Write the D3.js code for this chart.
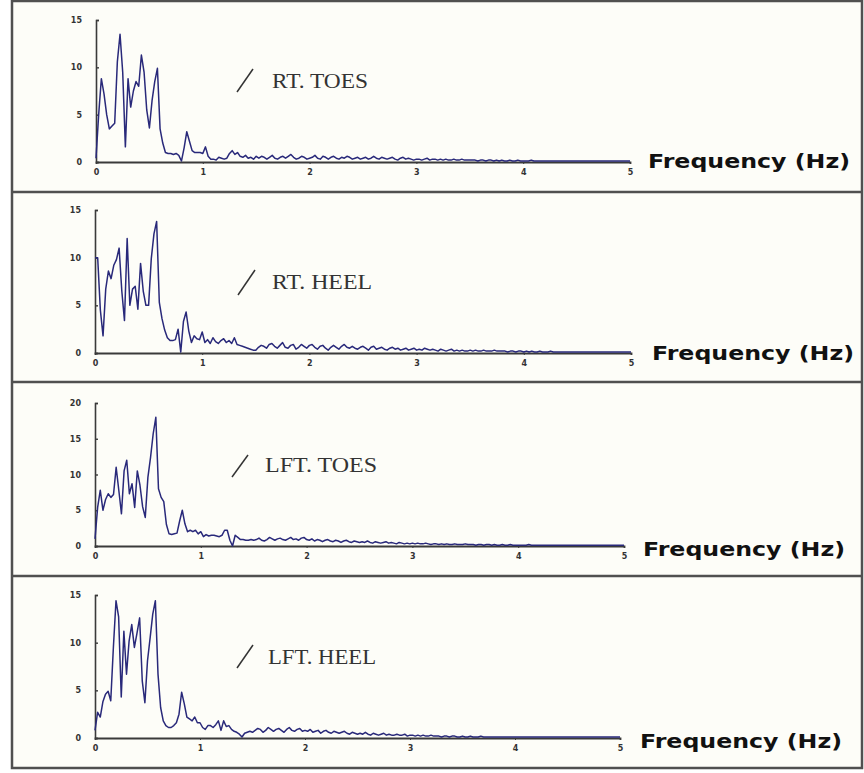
<!DOCTYPE html>
<html>
<head>
<meta charset="utf-8">
<script src="https://cdn.jsdelivr.net/npm/d3@7"></script>
<style>
  body { margin: 0; background: #fff; }
</style>
</head>
<body>
<div id="chart"></div>
<script>
// Four stacked FFT panels (force plate sensors), amplitude against frequency.
// Each series is sampled every freqStep Hz, starting at 0 Hz.

var freqStep = 0.025;
var freqTicks = [0, 1, 2, 3, 4, 5];
var panelNames = ["RT. TOES", "RT. HEEL", "LFT. TOES", "LFT. HEEL"];
var yMaxes = [15, 15, 20, 15];
var yTickSets = [[0, 5, 10, 15], [0, 5, 10, 15], [0, 5, 10, 15, 20], [0, 5, 10, 15]];
var axisTitle = "Frequency (Hz)";

var rtToes = [
  0.4, 5.0, 8.8, 7.2, 5.0, 3.5, 3.8, 4.1, 10.6, 13.5, 9.5, 1.6, 8.8, 5.8, 7.5, 8.5, 8.0, 11.3, 9.5, 5.5,
  3.6, 6.5, 8.5, 9.9, 3.5, 2.0, 1.0, 0.9, 0.9, 0.8, 0.9, 0.7, 0.1, 1.5, 3.2, 2.2, 1.2, 1.0, 1.0, 1.0,
  0.9, 1.6, 0.6, 0.3, 0.3, 0.2, 0.5, 0.4, 0.3, 0.4, 0.9, 1.2, 0.8, 1.0, 0.6, 0.5, 0.7, 0.4, 0.5, 0.3,
  0.6, 0.4, 0.6, 0.5, 0.3, 0.5, 0.7, 0.4, 0.3, 0.5, 0.6, 0.4, 0.6, 0.8, 0.5, 0.3, 0.4, 0.6, 0.5, 0.3,
  0.4, 0.5, 0.7, 0.4, 0.3, 0.6, 0.5, 0.3, 0.5, 0.6, 0.4, 0.3, 0.5, 0.4, 0.6, 0.5, 0.3, 0.4, 0.5, 0.3,
  0.4, 0.5, 0.3, 0.4, 0.6, 0.4, 0.3, 0.5, 0.4, 0.3, 0.4, 0.5, 0.3, 0.2, 0.4, 0.5, 0.3, 0.4, 0.3, 0.2,
  0.3, 0.3, 0.2, 0.3, 0.4, 0.2, 0.3, 0.3, 0.2, 0.3, 0.2, 0.3, 0.2, 0.2, 0.3, 0.2, 0.2, 0.3, 0.2, 0.2,
  0.2, 0.2, 0.2, 0.1, 0.2, 0.2, 0.1, 0.2, 0.2, 0.1, 0.2, 0.1, 0.2, 0.1, 0.1, 0.2, 0.1, 0.1, 0.2, 0.1,
  0.1, 0.1, 0.1, 0.2, 0.1, 0.1, 0.1, 0.1, 0.1, 0.1, 0.1, 0.1, 0.1, 0.1, 0.1, 0.1, 0.1, 0.1, 0.1, 0.1,
  0.1, 0.1, 0.1, 0.1, 0.1, 0.1, 0.1, 0.1, 0.1, 0.1, 0.1, 0.1, 0.1, 0.1, 0.1, 0.1, 0.1, 0.1, 0.1, 0.1,
  0.1
];

var rtHeel = [
  10.0, 10.0, 4.5, 1.8, 6.7, 8.6, 7.8, 9.2, 9.8, 11.0, 6.5, 3.4, 12.0, 5.0, 6.7, 7.0, 4.6, 9.4, 6.5, 5.0,
  5.0, 9.9, 12.5, 13.8, 5.3, 3.6, 2.4, 1.6, 1.3, 1.3, 1.4, 2.5, 0.1, 3.3, 4.3, 2.3, 1.1, 1.8, 1.5, 1.4,
  2.2, 1.1, 1.4, 1.0, 1.6, 1.2, 1.0, 1.3, 1.5, 1.1, 1.3, 1.0, 1.6, 0.9, 0.8, 0.7, 0.6, 0.5, 0.4, 0.3,
  0.3, 0.6, 0.8, 0.7, 0.5, 0.9, 1.0, 0.7, 0.5, 0.8, 1.1, 0.6, 0.5, 0.8, 0.9, 0.4, 0.6, 0.9, 0.7, 0.5,
  0.8, 0.9, 0.6, 0.4, 0.7, 0.8, 0.5, 0.3, 0.6, 0.8, 0.6, 0.4, 0.7, 0.9, 0.6, 0.5, 0.7, 0.5, 0.4, 0.6,
  0.7, 0.5, 0.3, 0.6, 0.7, 0.4, 0.5, 0.6, 0.4, 0.3, 0.5, 0.6, 0.4, 0.5, 0.3, 0.4, 0.5, 0.3, 0.4, 0.5,
  0.3, 0.4, 0.3, 0.5, 0.4, 0.3, 0.4, 0.3, 0.2, 0.4, 0.3, 0.2, 0.3, 0.4, 0.2, 0.3, 0.2, 0.3, 0.2, 0.2,
  0.3, 0.2, 0.3, 0.2, 0.2, 0.3, 0.2, 0.2, 0.2, 0.3, 0.2, 0.2, 0.2, 0.2, 0.1, 0.2, 0.2, 0.1, 0.2, 0.2,
  0.1, 0.2, 0.1, 0.2, 0.1, 0.1, 0.2, 0.1, 0.1, 0.1, 0.2, 0.1, 0.1, 0.1, 0.1, 0.1, 0.1, 0.1, 0.1, 0.1,
  0.1, 0.1, 0.1, 0.1, 0.1, 0.1, 0.1, 0.1, 0.1, 0.1, 0.1, 0.1, 0.1, 0.1, 0.1, 0.1, 0.1, 0.1, 0.1, 0.1,
  0.1
];

var lftToes = [
  1.0, 5.4, 7.8, 5.0, 6.5, 7.3, 6.8, 7.2, 11.0, 7.8, 4.5, 10.5, 12.0, 7.3, 8.7, 5.4, 10.5, 8.5, 5.5, 4.0,
  9.6, 12.4, 15.7, 18.0, 8.0, 6.8, 6.2, 3.0, 1.7, 1.6, 1.7, 1.8, 3.5, 5.0, 3.1, 2.0, 2.2, 2.0, 2.2, 1.7,
  2.0, 1.3, 1.6, 1.4, 1.5, 1.5, 1.4, 1.3, 1.5, 2.2, 2.2, 0.8, 0.0, 1.5, 1.2, 0.9, 0.9, 0.8, 0.8, 0.9,
  0.8, 0.9, 1.1, 0.8, 0.7, 0.9, 1.2, 1.0, 0.8, 1.0, 1.1, 0.9, 0.8, 1.0, 1.2, 0.9, 1.0, 0.8, 1.1, 1.2,
  0.9, 0.8, 1.0, 0.7, 0.9, 0.8, 0.6, 0.8, 0.9, 0.7, 0.6, 0.8, 0.7, 0.5, 0.7, 0.8, 0.6, 0.5, 0.7, 0.6,
  0.5, 0.6, 0.5, 0.7, 0.5, 0.4, 0.6, 0.5, 0.4, 0.5, 0.6, 0.4, 0.5, 0.4, 0.3, 0.5, 0.4, 0.3, 0.4, 0.3,
  0.4, 0.3, 0.4, 0.3, 0.3, 0.4, 0.3, 0.2, 0.3, 0.3, 0.2, 0.3, 0.2, 0.3, 0.2, 0.2, 0.3, 0.2, 0.2, 0.2,
  0.3, 0.2, 0.2, 0.2, 0.1, 0.2, 0.2, 0.1, 0.2, 0.2, 0.1, 0.2, 0.1, 0.1, 0.2, 0.1, 0.1, 0.2, 0.1, 0.1,
  0.1, 0.1, 0.1, 0.1, 0.2, 0.1, 0.1, 0.1, 0.1, 0.1, 0.1, 0.1, 0.1, 0.1, 0.1, 0.1, 0.1, 0.1, 0.1, 0.1,
  0.1, 0.1, 0.1, 0.1, 0.1, 0.1, 0.1, 0.1, 0.1, 0.1, 0.1, 0.1, 0.1, 0.1, 0.1, 0.1, 0.1, 0.1, 0.1, 0.1,
  0.1
];

var lftHeel = [
  0.8, 2.7, 2.2, 3.8, 4.6, 4.9, 3.9, 9.5, 14.4, 12.7, 4.3, 11.2, 6.7, 10.2, 11.9, 9.5, 11.0, 12.6, 6.0, 3.7,
  8.1, 10.5, 13.0, 14.4, 6.7, 3.2, 1.8, 1.3, 1.1, 1.1, 1.3, 1.6, 2.5, 4.8, 3.6, 2.2, 2.0, 1.8, 2.2, 1.6,
  1.6, 1.1, 0.9, 1.3, 1.3, 1.1, 1.4, 1.8, 0.8, 1.8, 1.2, 1.3, 0.9, 0.7, 0.6, 0.4, 0.1, 0.5, 0.6, 0.7,
  0.6, 0.8, 1.0, 0.9, 0.6, 0.8, 1.1, 0.9, 0.7, 0.9, 1.0, 0.8, 0.6, 0.9, 1.1, 0.8, 0.7, 0.9, 1.0, 0.7,
  0.8, 0.7, 0.9, 0.6, 0.7, 0.8, 0.5, 0.7, 0.8, 0.6, 0.5, 0.7, 0.6, 0.5, 0.6, 0.7, 0.5, 0.4, 0.6, 0.5,
  0.4, 0.5, 0.4, 0.6, 0.4, 0.3, 0.5, 0.4, 0.3, 0.4, 0.5, 0.3, 0.4, 0.3, 0.3, 0.4, 0.3, 0.3, 0.4, 0.2,
  0.3, 0.3, 0.2, 0.3, 0.2, 0.3, 0.2, 0.2, 0.3, 0.2, 0.2, 0.2, 0.1, 0.2, 0.2, 0.1, 0.2, 0.2, 0.1, 0.1,
  0.2, 0.1, 0.1, 0.2, 0.1, 0.1, 0.1, 0.2, 0.1, 0.1, 0.1, 0.1, 0.1, 0.1, 0.1, 0.1, 0.1, 0.1, 0.1, 0.1,
  0.1, 0.1, 0.1, 0.1, 0.1, 0.1, 0.1, 0.1, 0.1, 0.1, 0.1, 0.1, 0.1, 0.1, 0.1, 0.1, 0.1, 0.1, 0.1, 0.1,
  0.1, 0.1, 0.1, 0.1, 0.1, 0.1, 0.1, 0.1, 0.1, 0.1, 0.1, 0.1, 0.1, 0.1, 0.1, 0.1, 0.1, 0.1, 0.1, 0.1,
  0.1
];

var seriesList = [rtToes, rtHeel, lftToes, lftHeel];

/* page layout: frame, dividers and where each panel sits */
var frame = {left: 12, right: 862, top: 1, bottom: 768};
var dividers = [192, 382, 576];
var layout = [
  {x0: 96, x1: 630, yBase: 162, yTop: 20, label: [272, 81, 96], slash: [237, 92, 253, 69], title: [648, 161]},
  {x0: 95, x1: 631, yBase: 353, yTop: 210, label: [272, 282, 100], slash: [238, 295, 255, 270], title: [652, 353]},
  {x0: 95, x1: 624, yBase: 546, yTop: 403, label: [265, 465, 112], slash: [232, 477, 248, 455], title: [643, 549]},
  {x0: 95, x1: 620, yBase: 738, yTop: 595, label: [268, 657, 108], slash: [237, 668, 253, 645], title: [640, 741]}
];

var lineColor = "#29297a";
var axisColor = "#3a3a3a";

var svg = d3.select("#chart").append("svg")
    .attr("width", 864)
    .attr("height", 773)
    .style("display", "block");

svg.append("rect")
    .attr("width", 864).attr("height", 773)
    .attr("fill", "#ffffff");

/* outer frame with the panel dividers */
svg.append("rect")
    .attr("x", frame.left).attr("y", frame.top)
    .attr("width", frame.right - frame.left)
    .attr("height", frame.bottom - frame.top)
    .attr("fill", "#fdfdf8")
    .attr("stroke", "#505050")
    .attr("stroke-width", 2.5);

svg.selectAll("line.divider")
    .data(dividers)
    .enter()
    .append("line")
    .attr("class", "divider")
    .attr("x1", frame.left).attr("x2", frame.right)
    .attr("y1", function (d) { return d; })
    .attr("y2", function (d) { return d; })
    .attr("stroke", "#505050")
    .attr("stroke-width", 2.5);

/* one panel per sensor */
layout.forEach(function (lay, p) {
  var values = seriesList[p];
  var pts = values.map(function (v, i) {
    return {f: i * freqStep, v: v};
  });

  var x = d3.scaleLinear().domain([0, 5]).range([lay.x0, lay.x1]);
  var y = d3.scaleLinear().domain([0, yMaxes[p]]).range([lay.yBase, lay.yTop]);

  var g = svg.append("g").attr("class", "panel");

  /* y axis: ticks point inwards, small labels on the left */
  var yAxis = d3.axisLeft(y)
      .tickValues(yTickSets[p])
      .tickSize(-3)
      .tickPadding(14)
      .tickFormat(d3.format("d"));
  var ya = g.append("g")
      .attr("transform", "translate(" + lay.x0 + ",0)")
      .call(yAxis);
  ya.select(".domain").attr("stroke", axisColor).attr("stroke-width", 1.6);
  ya.selectAll(".tick line").attr("stroke", axisColor).attr("stroke-width", 1.4);
  ya.selectAll(".tick text")
      .attr("fill", "#333")
      .style("font-family", "DejaVu Sans, sans-serif")
      .style("font-size", "8px")
      .style("font-weight", "bold");

  /* x axis along the zero line */
  var xAxis = d3.axisBottom(x)
      .tickValues(freqTicks)
      .tickSize(2)
      .tickPadding(5)
      .tickFormat(d3.format("d"));
  var xa = g.append("g")
      .attr("transform", "translate(0," + lay.yBase + ")")
      .call(xAxis);
  xa.select(".domain").attr("stroke", axisColor).attr("stroke-width", 1.8);
  xa.selectAll(".tick line").attr("stroke", axisColor);
  xa.selectAll(".tick text")
      .attr("fill", "#333")
      .style("font-family", "DejaVu Sans, sans-serif")
      .style("font-size", "8px")
      .style("font-weight", "bold");

  /* the spectrum line */
  var line = d3.line()
      .x(function (d) { return x(d.f); })
      .y(function (d) { return y(d.v); });
  g.append("path")
      .datum(pts)
      .attr("d", line)
      .attr("fill", "none")
      .attr("stroke", lineColor)
      .attr("stroke-width", 1.5)
      .attr("stroke-linejoin", "round");

  /* sensor label with its little legend stroke */
  g.append("line")
      .attr("x1", lay.slash[0]).attr("y1", lay.slash[1])
      .attr("x2", lay.slash[2]).attr("y2", lay.slash[3])
      .attr("stroke", "#333")
      .attr("stroke-width", 1.5);
  g.append("text")
      .attr("x", lay.label[0])
      .attr("y", lay.label[1])
      .attr("dominant-baseline", "central")
      .attr("fill", "#333")
      .attr("textLength", lay.label[2])
      .attr("lengthAdjust", "spacingAndGlyphs")
      .style("font-family", "Liberation Serif, Times New Roman, serif")
      .style("font-size", "20px")
      .text(panelNames[p]);

  /* axis title to the right of the x axis */
  g.append("text")
      .attr("x", lay.title[0])
      .attr("y", lay.title[1])
      .attr("dominant-baseline", "central")
      .attr("fill", "#111")
      .style("font-family", "DejaVu Sans, sans-serif")
      .style("font-size", "20px")
      .style("font-weight", "bold")
      .attr("textLength", 202)
      .attr("lengthAdjust", "spacingAndGlyphs")
      .text(axisTitle);
});
</script>
</body>
</html>
